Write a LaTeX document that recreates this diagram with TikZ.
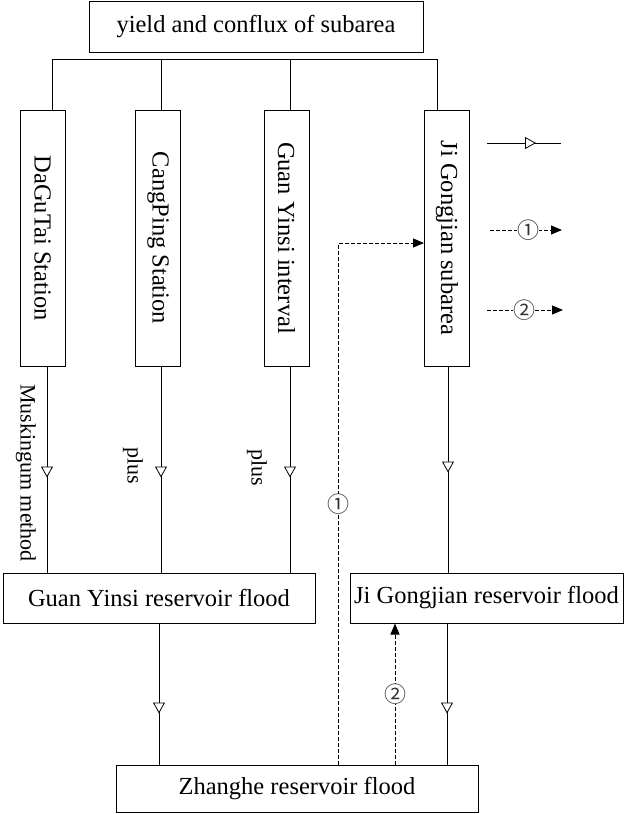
\documentclass[tikz,border=0pt]{standalone}
\usepackage{graphicx}
\usepackage{fontspec}
\setmainfont{Liberation Serif}
\newfontfamily\circfont{Noto Sans CJK SC}
\usetikzlibrary{arrows.meta,decorations.markings,calc}
\begin{document}
\begin{tikzpicture}[x=1pt,y=-1pt,
  box/.style={draw, line width=1pt, inner sep=0pt, font=\fontsize{24.5}{28}\selectfont},
  vbox/.style={box, minimum width=45pt, minimum height=256pt},
  lab/.style={inner sep=0pt, font=\fontsize{22}{26}\selectfont},
  conn/.style={line width=0.8pt},
  flow/.style={conn, postaction={decorate}, decoration={markings,
     mark=at position #1 with {\arrow{Triangle[fill=white,length=11pt,width=12pt,line width=0.8pt]}}}},
  dline/.style={line width=1pt, dash pattern=on 4pt off 2pt, -{Triangle[length=11pt,width=9pt]}},
  num/.style={font=\circfont\fontsize{22}{22}\selectfont, text=black!80, fill=white, inner sep=0pt}
]
\useasboundingbox (0,0) rectangle (625,814);

% nodes
\node[box, minimum width=334pt, minimum height=51pt] (top) at (256,26.5) {yield and conflux of subarea};
\node[vbox] (dgt) at (42.5,238) {\rotatebox{-90}{DaGuTai Station}};
\node[vbox] (cp)  at (158,238)  {\rotatebox{-90}{CangPing Station}};
\node[vbox] (gyi) at (286.5,238) {\rotatebox{-90}{Guan Yinsi interval}};
\node[vbox] (ji)  at (447,238)  {\rotatebox{-90}{Ji Gongjian subarea}};
\node[box, minimum width=312pt, minimum height=50pt] (gyr) at (159,598) {Guan Yinsi reservoir flood};
\node[box, minimum width=273pt, minimum height=50pt] (jir) at (486.5,598) {Ji Gongjian reservoir flood};
\node[box, minimum width=362pt, minimum height=47pt] (zh) at (297,788.5) {Zhanghe reservoir flood};

% labels
\node[lab] (musk) at (26,473) {\rotatebox{-90}{Muskingum method}};
\node[lab] (plus1) at (133,466) {\rotatebox{-90}{plus}};
\node[lab] (plus2) at (257,468) {\rotatebox{-90}{plus}};

% column coordinates
\coordinate (b1) at (52,59);
\coordinate (b2) at (161,59);
\coordinate (b3) at (290,59);
\coordinate (b4) at (437,59);
\coordinate (c1) at (47,0);
\coordinate (c2) at (161,0);
\coordinate (c3) at (290,0);
\coordinate (c4) at (448,0);
\coordinate (c5) at (159,0);
\coordinate (c6) at (447,0);
\coordinate (d1) at (338,0);
\coordinate (d2) at (395,0);
\coordinate (r1) at (0,243);

% bus
\draw[conn] (dgt.north -| b1) -- (b1) -- (b4) -- (ji.north -| b4);
\draw[conn] (b2) -- (cp.north -| b2);
\draw[conn] (b3) -- (gyi.north -| b3);

% flows
\draw[flow=111pt] (dgt.south -| c1) -- (gyr.north -| c1);
\draw[flow=111pt] (cp.south -| c2) -- (gyr.north -| c2);
\draw[flow=111pt] (gyi.south -| c3) -- (gyr.north -| c3);
\draw[flow=106pt] (ji.south -| c4) -- (jir.north -| c4);
\draw[flow=90pt] (gyr.south -| c5) -- (zh.north -| c5);
\draw[flow=90pt] (jir.south -| c6) -- (zh.north -| c6);

% dashed feedback
\draw[dline] (zh.north -| d1) |- (ji.west |- r1) node[num, pos=0.25] (n1) {①};
\draw[dline] (zh.north -| d2) -- (jir.south -| d2) node[num, pos=0.5] (n2) {②};

% legend
\coordinate (la) at (487,143);
\coordinate (lb) at (561,143);
\coordinate (lc) at (490,230);
\coordinate (ld) at (562,230);
\coordinate (le) at (487,310);
\coordinate (lf) at (563,310);
\draw[flow=49pt] (la) -- (lb);
\draw[dline] (lc) -- (ld) node[num, pos=0.53] (n3) {①};
\draw[dline] (le) -- (lf) node[num, pos=0.49] (n4) {②};
\end{tikzpicture}
\end{document}
